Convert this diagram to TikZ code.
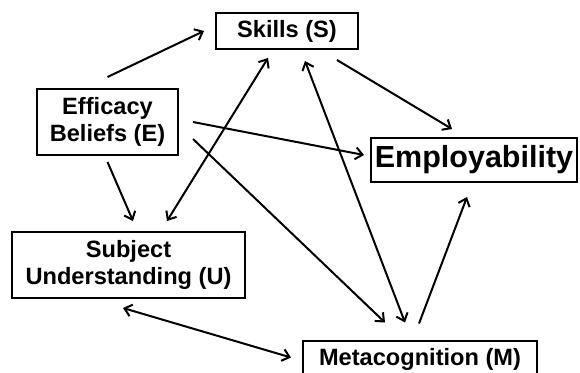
\documentclass[tikz,border=0pt]{standalone}
\usepackage{fontspec}
\setmainfont{Liberation Sans}
\usetikzlibrary{arrows.meta,calc}
\begin{document}
\begin{tikzpicture}[x=1pt,y=-1pt,
  box/.style={draw=black,line width=2pt,inner sep=0pt,align=center,
    font=\fontsize{23.6}{27}\selectfont\bfseries},
  conn/.style={line width=2pt,-{Straight Barb[length=7pt,width=12pt,line width=2pt]}},
  both/.style={line width=2pt,{Straight Barb[length=7pt,width=12pt,line width=2pt]}-{Straight Barb[length=7pt,width=12pt,line width=2pt]}}]
\useasboundingbox (0,0) rectangle (580,372);
\node[box,minimum width=142pt,minimum height=36pt] (S) at (287,31) {Skills (S)};
\node[box,minimum width=141pt,minimum height=66pt] (E) at (107.5,122) {Efficacy\\Beliefs (E)};
\node[box,minimum width=206pt,minimum height=44pt,font=\fontsize{30.5}{34}\selectfont\bfseries] (P) at (474,160) {Employability};
\node[box,minimum width=233pt,minimum height=66pt] (U) at (128.5,265) {Subject\\Understanding (U)};
\node[box,minimum width=234pt,minimum height=38pt] (M) at (420,359.5) {Metacognition (M)};
\draw[conn] ($(E.north)+(0,-11)$) -- ($(S.west)+(-11,0)$);
\draw[conn] ($(S.south)+(50,10)$) -- ($(P.north)+(-22,-8)$);
\draw[conn] ($(E.east)+(14,0)$) -- ($(P.west)+(-6,-5)$);
\draw[conn] ($(E.east)+(14,17)$) -- ($(M.north)+(-35,-17)$);
\draw[conn] ($(E.south)+(0,6)$) -- ($(U.north)+(4.5,-10)$);
\draw[both] ($(U.north)+(38.5,-10)$) -- ($(S.south)+(-19,8)$);
\draw[both] ($(M.north)+(-15,-17)$) -- ($(S.south)+(18,11)$);
\draw[conn] ($(M.north)+(-1,-16)$) -- ($(P.south)+(-7,14)$);
\draw[both] ($(U.south)+(-5.5,9)$) -- ($(M.west)+(-11,-2)$);
\end{tikzpicture}
\end{document}
